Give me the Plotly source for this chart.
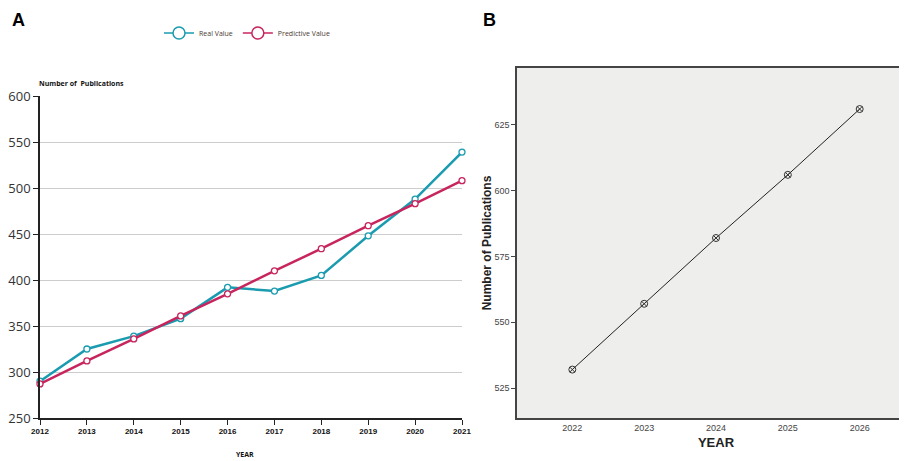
import plotly.graph_objects as go

years_a = [2012, 2013, 2014, 2015, 2016, 2017, 2018, 2019, 2020, 2021]
real_values = [290, 325, 339, 358, 392, 388, 405, 448, 488, 539]
predictive_values = [287, 312, 336, 361, 385, 410, 434, 459, 483, 508]

years_b = [2022, 2023, 2024, 2025, 2026]
forecast_values = [532, 557, 582, 606, 631]

W, H = 907, 461
OFF = 8  # page body margin
def px_x(x):
    return (x - OFF) / W
def px_y(y):
    return 1 - (y - OFF) / H

teal = "#1a9bb0"
crimson = "#c8255e"

fig = go.Figure()

fig.add_trace(go.Scatter(x=years_a, y=real_values, mode="lines+markers", showlegend=False,
                         line=dict(color=teal, width=2.5),
                         marker=dict(symbol="circle", size=6, color="white", line=dict(color=teal, width=1.3)),
                         cliponaxis=False, xaxis="x", yaxis="y"))
fig.add_trace(go.Scatter(x=years_a, y=predictive_values, mode="lines+markers", showlegend=False,
                         line=dict(color=crimson, width=2.5),
                         marker=dict(symbol="circle", size=6, color="white", line=dict(color=crimson, width=1.3)),
                         cliponaxis=False, xaxis="x", yaxis="y"))
# legend entries
fig.add_trace(go.Scatter(x=[None], y=[None], mode="lines+markers", name="Real Value",
                         line=dict(color=teal, width=1.5),
                         marker=dict(size=12, color="white", line=dict(color=teal, width=1.5)),
                         xaxis="x", yaxis="y"))
fig.add_trace(go.Scatter(x=[None], y=[None], mode="lines+markers", name="Predictive Value",
                         line=dict(color=crimson, width=1.5),
                         marker=dict(size=12, color="white", line=dict(color=crimson, width=1.5)),
                         xaxis="x", yaxis="y"))

fig.add_trace(go.Scatter(x=years_b, y=forecast_values, mode="lines+markers", showlegend=False,
                         line=dict(color="#222222", width=1),
                         marker=dict(symbol="circle-x-open", size=7, color="#333333", line=dict(width=1)),
                         xaxis="x2", yaxis="y2"))

fig.update_layout(
    width=W, height=H,
    margin=dict(l=0, r=0, t=0, b=0, autoexpand=False),
    paper_bgcolor="white", plot_bgcolor="white",
    font=dict(family="Open Sans, Arial", color="#333"),
    xaxis=dict(domain=[px_x(40), px_x(462)], range=[2012, 2021], tickmode="array",
               tickvals=years_a, ticktext=[str(y) for y in years_a], automargin=False,
               showgrid=False, showline=True, linecolor="#222", linewidth=1.5,
               ticks="outside", ticklen=5, tickcolor="#222", zeroline=False,
               tickfont=dict(family="Arial", size=8, color="#111", weight="bold"), anchor="y"),
    yaxis=dict(domain=[px_y(418), px_y(96)], range=[250, 600], tickvals=[250, 300, 350, 400, 450, 500, 550, 600],
               showgrid=True, gridcolor="#cccccc", gridwidth=1.2, automargin=False,
               showline=True, linecolor="#222", linewidth=1.5,
               ticks="outside", ticklen=5, tickcolor="#222", zeroline=False,
               tickfont=dict(family="Open Sans", size=13, color="#333"), anchor="x"),
    xaxis2=dict(domain=[px_x(517), 1.0], range=[2021.23, 2026.77], tickvals=years_b,
                showgrid=False, showline=True, linecolor="#444", linewidth=1.5, mirror=True,
                ticks="", zeroline=False, automargin=False,
                tickfont=dict(family="Liberation Sans", size=9, color="#444"), anchor="y2",
                title=dict(text="YEAR", font=dict(family="Liberation Sans", size=13, color="#222", weight="bold"), standoff=6)),
    yaxis2=dict(domain=[px_y(418), px_y(68)], range=[513.6, 646.6], tickvals=[525, 550, 575, 600, 625],
                showgrid=False, showline=True, linecolor="#444", linewidth=1.5, mirror=True,
                ticks="outside", ticklen=4, tickcolor="#444", zeroline=False, automargin=False,
                tickfont=dict(family="Liberation Sans", size=9, color="#444"), anchor="x2",
                title=dict(text="Number of Publications", font=dict(family="Liberation Sans", size=12, color="#222", weight="bold"), standoff=0)),
    legend=dict(orientation="h", x=px_x(159), y=px_y(33), xanchor="left", yanchor="middle",
                font=dict(family="Open Sans", size=7, color="#4a3a30"), bgcolor="rgba(0,0,0,0)",
                itemwidth=30),
    shapes=[dict(type="rect", xref="x2 domain", yref="y2 domain", x0=0, x1=1, y0=0, y1=1,
                 fillcolor="#eeeeec", line=dict(width=0), layer="below")],
    annotations=[
        dict(text="<b>A</b>", x=px_x(10), y=px_y(20), xref="paper", yref="paper", xanchor="left", yanchor="middle",
             showarrow=False, font=dict(family="Liberation Sans", size=18, color="#000")),
        dict(text="<b>B</b>", x=px_x(481), y=px_y(20), xref="paper", yref="paper", xanchor="left", yanchor="middle",
             showarrow=False, font=dict(family="Liberation Sans", size=18, color="#000")),
        dict(text="<b>Number of  Publications</b>", x=px_x(37), y=px_y(84), xref="paper", yref="paper",
             xanchor="left", yanchor="middle", showarrow=False,
             font=dict(family="Open Sans", size=7, color="#111")),
        dict(text="<b>YEAR</b>", x=px_x(245), y=px_y(454), xref="paper", yref="paper",
             xanchor="center", yanchor="middle", showarrow=False,
             font=dict(family="Open Sans", size=7, color="#111")),
    ],
)

fig.write_html("out.html")
